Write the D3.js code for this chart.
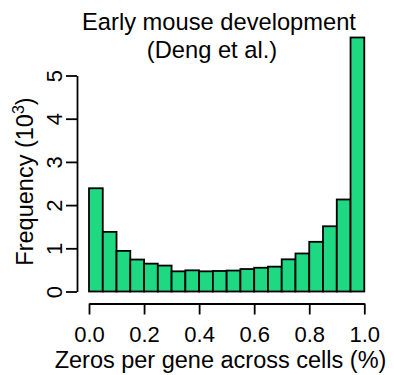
<!DOCTYPE html>
<meta charset="utf-8">
<style>
  body { margin: 0; background: #fff; }
  text { font-family: "Liberation Sans", Arial, sans-serif; fill: #000; }
</style>
<svg width="394" height="375"></svg>
<script src="https://cdn.jsdelivr.net/npm/d3@7"></script>
<script>

// histogram of zeros per gene, 20 bins of width 0.05, counts in thousands
var binStart = [0.00,0.05,0.10,0.15,0.20,0.25,0.30,0.35,0.40,0.45,
                0.50,0.55,0.60,0.65,0.70,0.75,0.80,0.85,0.90,0.95];
var counts = [2.39,1.38,0.94,0.74,0.645,0.60,0.467,0.49,0.467,0.475,
              0.485,0.52,0.55,0.575,0.745,0.88,1.15,1.51,2.13,5.88];
var binWidth = 0.05;
var xTicks = [0, 0.2, 0.4, 0.6, 0.8, 1.0];
var yTicks = [0, 1, 2, 3, 4, 5];
var titleLines = ["Early mouse development", "(Deng et al.)"];

var svg = d3.select("svg");

var x = d3.scaleLinear().domain([0, 1]).range([89, 364.3]);
var y = d3.scaleLinear().domain([0, 5]).range([291.5, 75.5]);

// bars
svg.append("g")
  .selectAll("rect")
  .data(counts)
  .enter().append("rect")
    .attr("x", function(d, i) { return x(binStart[i]); })
    .attr("width", function(d, i) { return x(binStart[i] + binWidth) - x(binStart[i]); })
    .attr("y", function(d) { return y(d); })
    .attr("height", function(d) { return y(0) - y(d); })
    .attr("fill", "#1ed882")
    .attr("stroke", "#000")
    .attr("stroke-width", 1.8);

// x axis
var xAxis = svg.append("g")
    .attr("transform", "translate(0,303.5)")
    .call(d3.axisBottom(x).tickValues(xTicks).tickSize(11).tickSizeOuter(0)
      .tickFormat(d3.format(".1f")));
xAxis.select(".domain").attr("stroke-width", 1.8);
xAxis.selectAll(".tick line").attr("stroke-width", 1.8);
xAxis.selectAll("text")
    .attr("y", 38.5).attr("dy", 0)
    .style("font-size", "22px");

// y axis
var yAxis = svg.append("g")
    .attr("transform", "translate(77,0)")
    .call(d3.axisLeft(y).tickValues(yTicks).tickSize(11).tickSizeOuter(0)
      .tickFormat(d3.format("d")));
yAxis.select(".domain").attr("stroke-width", 1.8);
yAxis.selectAll(".tick line").attr("stroke-width", 1.8);
yAxis.selectAll("text")
    .attr("x", 0).attr("dy", 0)
    .attr("transform", "translate(-15,0) rotate(-90)")
    .style("text-anchor", "middle")
    .style("font-size", "22px");

svg.selectAll(".domain, .tick line").attr("stroke", "#000");
svg.selectAll(".tick text").attr("fill", "#000").attr("font-family", null);

// title
svg.append("text")
    .attr("x", 219).attr("y", 29.5)
    .attr("text-anchor", "middle")
    .style("font-size", "23.7px")
    .text(titleLines[0]);
svg.append("text")
    .attr("x", 212).attr("y", 58)
    .attr("text-anchor", "middle")
    .style("font-size", "23.7px")
    .text(titleLines[1]);

// x label
svg.append("text")
    .attr("x", 220.5).attr("y", 368)
    .attr("text-anchor", "middle")
    .style("font-size", "23.5px")
    .text("Zeros per gene across cells (%)");

// y label
var yl = svg.append("text")
    .attr("transform", "translate(33,181.5) rotate(-90)")
    .attr("text-anchor", "middle")
    .style("font-size", "23.5px");
yl.append("tspan").text("Frequency (10");
yl.append("tspan").attr("dy", -9).style("font-size", "16px").text("3");
yl.append("tspan").attr("dy", 9).text(")");

</script>
